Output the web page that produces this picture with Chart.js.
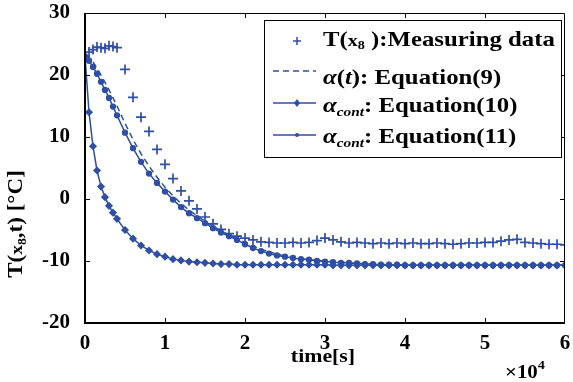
<!DOCTYPE html>
<html>
<head>
<meta charset="utf-8">
<script src="https://cdn.jsdelivr.net/npm/chart.js@4"></script>
<style>
  body { margin: 0; background: #fff; }
</style>
</head>
<body>
<canvas id="c" width="573" height="382"></canvas>
<script>
// time axis (s)
const times = [0, 500, 1000, 1500, 2000, 2500, 3000, 3500, 4000,
  5000, 6000, 7000, 8000, 9000, 10000, 11000, 12000, 13000, 14000,
  15000, 16000, 17000, 18000, 19000, 20000, 21000, 22000, 23000, 24000,
  25000, 26000, 27000, 28000, 29000, 30000, 31000, 32000, 33000, 34000,
  35000, 36000, 37000, 38000, 39000, 40000, 41000, 42000, 43000, 44000,
  45000, 46000, 47000, 48000, 49000, 50000, 51000, 52000, 53000, 54000,
  55000, 56000, 57000, 58000, 59000, 60000];

const measured = [23.0, 23.7, 24.1, 24.5, 24.4, 24.3, 24.7, 24.6, 24.4,
  20.9, 16.4, 13.2, 10.9, 8.0, 5.6, 3.3, 1.3, -0.3, -1.6,
  -2.9, -4.0, -4.9, -5.6, -6.0, -6.3, -6.6, -6.9, -7.0, -7.1,
  -7.1, -7.0, -7.1, -7.0, -6.7, -6.3, -6.6, -6.9, -7.1, -7.0,
  -7.1, -7.2, -7.1, -7.2, -7.1, -7.2, -7.1, -7.2, -7.2, -7.1,
  -7.2, -7.3, -7.2, -7.1, -7.1, -7.0, -7.0, -6.8, -6.6, -6.5,
  -7.0, -7.1, -7.2, -7.3, -7.3, -7.4];

const eq9 = [23.0, 22.8, 22.1, 21.1, 20.0, 18.8, 17.6, 16.3, 15.0,
  12.2, 9.6, 7.3, 5.3, 3.5, 1.9, 0.5, -0.7, -1.8, -2.7,
  -3.6, -4.4, -5.1, -5.8, -6.4, -7.0, -7.6, -8.1, -8.5, -8.9,
  -9.2, -9.4, -9.6, -9.8, -9.9, -10.0, -10.1, -10.2, -10.3, -10.4,
  -10.4, -10.5, -10.5, -10.6, -10.6, -10.6, -10.7, -10.7, -10.7, -10.7,
  -10.7, -10.7, -10.7, -10.7, -10.7, -10.7, -10.7, -10.7, -10.7, -10.7,
  -10.7, -10.7, -10.7, -10.7, -10.7, -10.7];

const eq10 = [23.0, 14.0, 8.5, 4.6, 2.0, 0.3, -1.1, -2.2, -3.2,
  -5.0, -6.4, -7.5, -8.3, -8.9, -9.3, -9.7, -9.9, -10.1, -10.2,
  -10.3, -10.4, -10.5, -10.5, -10.6, -10.6, -10.6, -10.6, -10.6, -10.6,
  -10.6, -10.6, -10.6, -10.6, -10.6, -10.6, -10.7, -10.7, -10.7, -10.7,
  -10.7, -10.7, -10.7, -10.7, -10.7, -10.7, -10.7, -10.7, -10.7, -10.7,
  -10.7, -10.7, -10.7, -10.7, -10.7, -10.7, -10.7, -10.7, -10.7, -10.7,
  -10.7, -10.7, -10.7, -10.7, -10.7, -10.7];

const eq11 = [23.0, 22.3, 21.3, 20.2, 18.9, 17.6, 16.3, 14.9, 13.5,
  10.7, 8.2, 6.0, 4.1, 2.6, 1.2, -0.1, -1.3, -2.3, -3.1,
  -3.9, -4.7, -5.4, -6.0, -6.6, -7.3, -7.9, -8.4, -8.8, -9.1,
  -9.3, -9.5, -9.7, -9.8, -10.0, -10.1, -10.2, -10.3, -10.3, -10.4,
  -10.5, -10.5, -10.6, -10.6, -10.6, -10.7, -10.7, -10.7, -10.7, -10.7,
  -10.7, -10.7, -10.7, -10.7, -10.7, -10.7, -10.7, -10.7, -10.7, -10.7,
  -10.7, -10.7, -10.7, -10.7, -10.7, -10.7];

const xTicks = [0, 10000, 20000, 30000, 40000, 50000, 60000];
const yTicks = [-20, -10, 0, 10, 20, 30];

const blue = "#2f4fa6";
const serif = "'Liberation Serif', 'Times New Roman', serif";

const pts = (vals) => times.map((t, i) => ({ x: t, y: vals[i] }));

// draws text made of pieces [text, font, dy], stretched horizontally by sx
function drawPieces(ctx, pieces, x, y, sx) {
  sx = sx || 1;
  ctx.save();
  ctx.translate(x, y);
  ctx.scale(sx, 1);
  let cx = 0;
  for (const [txt, font, dy] of pieces) {
    ctx.font = font;
    ctx.fillText(txt, cx, dy || 0);
    cx += ctx.measureText(txt).width;
  }
  ctx.restore();
  return cx * sx;
}
function piecesWidth(ctx, pieces, sx) {
  let w = 0;
  for (const [txt, font] of pieces) {
    ctx.font = font;
    w += ctx.measureText(txt).width;
  }
  return w * (sx || 1);
}

const frame = {
  id: "frame",
  afterDraw(chart) {
    const ctx = chart.ctx;
    const a = chart.chartArea;
    const xs = chart.scales.x, ys = chart.scales.y;
    ctx.save();
    ctx.strokeStyle = "#000";
    // box
    ctx.lineWidth = 1;
    ctx.beginPath();
    ctx.moveTo(a.left, a.top + 0.5);
    ctx.lineTo(a.right - 0.5, a.top + 0.5);
    ctx.lineTo(a.right - 0.5, a.bottom);
    ctx.stroke();
    ctx.lineWidth = 2;
    ctx.beginPath();
    ctx.moveTo(a.left, a.top);
    ctx.lineTo(a.left, a.bottom);
    ctx.lineTo(a.right, a.bottom);
    ctx.stroke();
    // inward ticks
    ctx.lineWidth = 1;
    ctx.beginPath();
    xTicks.slice(1, -1).forEach((v) => {
      const px = Math.round(xs.getPixelForValue(v)) + 0.5;
      ctx.moveTo(px, a.bottom); ctx.lineTo(px, a.bottom - 5);
      ctx.moveTo(px, a.top); ctx.lineTo(px, a.top + 5);
    });
    yTicks.slice(1, -1).forEach((v) => {
      const py = Math.round(ys.getPixelForValue(v)) + 0.5;
      ctx.moveTo(a.left, py); ctx.lineTo(a.left + 5, py);
      ctx.moveTo(a.right, py); ctx.lineTo(a.right - 5, py);
    });
    ctx.stroke();

    ctx.fillStyle = "#000";
    ctx.textBaseline = "alphabetic";
    ctx.textAlign = "left";
    const bf = (s) => "bold " + s + "px " + serif;
    const bi = (s) => "italic bold " + s + "px " + serif;
    // x title
    const xt = [["time[s]", bf(19)]];
    drawPieces(ctx, xt, 323 - piecesWidth(ctx, xt, 1.15) / 2, 362, 1.15);
    // x multiplier
    drawPieces(ctx, [["\u00d710", bf(19)], ["4", bf(13), -9]], 505, 378, 1.1);

    // y title
    ctx.save();
    ctx.translate(22, 224);
    ctx.rotate(-Math.PI / 2);
    const yt = [["T(", bf(20)], ["x", bf(17)], ["8", bf(12), 4], [",t) [\u00b0C]", bf(20)]];
    drawPieces(ctx, yt, -piecesWidth(ctx, yt, 1.15) / 2, 0, 1.15);
    ctx.restore();

    // legend
    ctx.fillStyle = "#fff";
    ctx.fillRect(264, 20, 298, 138);
    ctx.lineWidth = 1;
    ctx.strokeStyle = "#000";
    ctx.strokeRect(264.5, 20.5, 297, 137);

    const tx = 323;
    ctx.strokeStyle = blue;
    ctx.fillStyle = blue;
    // row 1 marker
    ctx.lineWidth = 1.5;
    ctx.beginPath();
    ctx.moveTo(293, 41); ctx.lineTo(301, 41);
    ctx.moveTo(297, 37); ctx.lineTo(297, 45);
    ctx.stroke();
    // row 2 dashed
    ctx.setLineDash([6, 4]);
    ctx.beginPath();
    ctx.moveTo(273, 71); ctx.lineTo(316, 71);
    ctx.stroke();
    ctx.setLineDash([]);
    // row 3 & 4 lines
    ctx.beginPath();
    ctx.moveTo(273, 103); ctx.lineTo(316, 103);
    ctx.moveTo(273, 135); ctx.lineTo(316, 135);
    ctx.stroke();
    ctx.beginPath();
    ctx.moveTo(297, 99); ctx.lineTo(300, 103); ctx.lineTo(297, 107); ctx.lineTo(294, 103);
    ctx.closePath();
    ctx.fill();
    ctx.beginPath();
    ctx.arc(297, 135, 2, 0, Math.PI * 2);
    ctx.fill();

    ctx.fillStyle = "#000";
    const lx = 1.18;
    drawPieces(ctx, [["T(", bf(21)], ["x", bf(17)], ["8", bf(12), 3], [" ):Measuring data", bf(21)]], tx, 46, lx);
    drawPieces(ctx, [["\u03b1", bi(21)], ["(", bf(21)], ["t", bi(21)], ["): Equation(9)", bf(21)]], tx, 84, lx);
    drawPieces(ctx, [["\u03b1", bi(21)], ["cont", bi(13), 4], [": Equation(10)", bf(21)]], tx, 112, lx);
    drawPieces(ctx, [["\u03b1", bi(21)], ["cont", bi(13), 4], [": Equation(11)", bf(21)]], tx, 143, lx);
    ctx.restore();
  },
};

new Chart(document.getElementById("c"), {
  type: "scatter",
  data: {
    datasets: [
      {
        label: "T(x8):Measuring data",
        data: pts(measured),
        showLine: false,
        pointStyle: "cross",
        pointRadius: 5,
        borderWidth: 1.7,
        borderColor: blue,
        backgroundColor: blue,
      },
      {
        label: "alpha(t): Equation(9)",
        data: pts(eq9),
        showLine: true,
        borderDash: [6, 4],
        borderWidth: 1.5,
        pointRadius: 0,
        borderColor: blue,
      },
      {
        label: "alpha_cont: Equation(10)",
        data: pts(eq10),
        showLine: true,
        borderWidth: 1.5,
        pointStyle: "rectRot",
        pointRadius: 3,
        borderColor: blue,
        backgroundColor: blue,
      },
      {
        label: "alpha_cont: Equation(11)",
        data: pts(eq11),
        showLine: true,
        borderWidth: 1.5,
        pointStyle: "circle",
        pointRadius: 2.4,
        borderColor: blue,
        backgroundColor: blue,
      },
    ],
  },
  options: {
    responsive: false,
    animation: false,
    layout: { padding: { top: 13, right: 8, left: 0, bottom: 0 } },
    plugins: { legend: { display: false }, tooltip: { enabled: false } },
    scales: {
      x: {
        type: "linear",
        min: 0,
        max: 60000,
        afterBuildTicks: (s) => { s.ticks = xTicks.map((v) => ({ value: v })); },
        afterFit: (s) => { s.height = 59; s.paddingLeft = 0; s.paddingRight = 0; },
        ticks: {
          callback: (v) => v / 10000,
          color: "#000",
          font: { family: serif, size: 21, weight: "bold" },
          padding: 0,
          maxRotation: 0,
        },
        grid: { display: false },
        border: { display: false },
      },
      y: {
        min: -20,
        max: 30,
        afterBuildTicks: (s) => { s.ticks = yTicks.map((v) => ({ value: v })); },
        afterFit: (s) => { s.width = 85; s.paddingTop = 0; s.paddingBottom = 0; },
        ticks: {
          color: "#000",
          font: { family: serif, size: 21, weight: "bold" },
          padding: 7,
        },
        grid: { display: false },
        border: { display: false },
      },
    },
  },
  plugins: [frame],
});
</script>
</body>
</html>
